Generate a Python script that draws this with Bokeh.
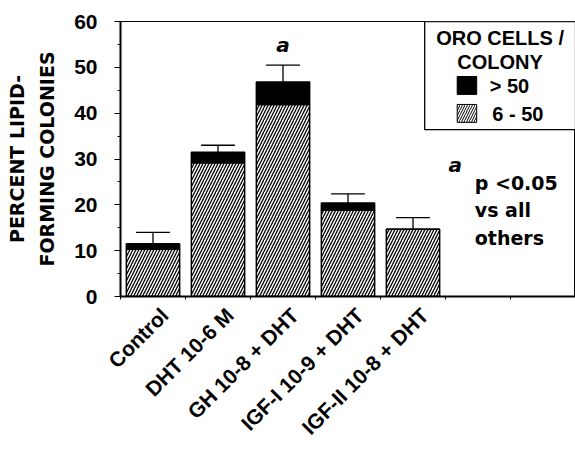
import math
from bokeh.plotting import figure
from bokeh.models import Range1d, FixedTicker, ColumnDataSource
from bokeh.core.properties import value
from bokeh.embed import file_html
from bokeh.resources import INLINE

categories = ["Control", "DHT 10-6 M", "GH 10-8 + DHT", "IGF-I 10-9 + DHT", "IGF-II 10-8 + DHT"]
pct_6_50 = [10.3, 29.2, 41.9, 18.8, 14.7]
pct_gt50 = [1.2, 2.3, 4.9, 1.6, 0.0]
sem = [2.5, 1.5, 3.7, 2.0, 2.5]
n_slots = 7

FONT = "DejaVu Sans"
TFONT = "Liberation Sans"

xs = [i + 0.5 for i in range(len(categories))]
label_pos = [x + 0.18 for x in xs]
totals = [a + b for a, b in zip(pct_6_50, pct_gt50)]
err_top = [t + s for t, s in zip(totals, sem)]

p = figure(width=575, height=449, output_backend="svg", toolbar_location=None,
           x_range=Range1d(0, n_slots), y_range=Range1d(0, 60),
           min_border_left=120, min_border_right=0, min_border_top=21, min_border_bottom=153)
p.grid.visible = False
p.outline_line_color = "black"
p.outline_line_width = 1
p.background_fill_color = "white"
p.border_fill_color = "white"

src = ColumnDataSource(dict(x=xs, h=pct_6_50, g=pct_gt50, t=totals, e=err_top,
                            z=[0] * len(xs)))
bw = 0.82
p.vbar(x="x", bottom="z", top="h", width=bw, source=src, fill_color="white",
       line_color="black", line_width=1.5, hatch_pattern="/", hatch_color="black",
       hatch_scale=6, hatch_weight=1.3)
p.vbar(x="x", bottom="h", top="t", width=bw, source=src, fill_color="black",
       line_color="black", line_width=1.5)
p.segment(x0="x", y0="t", x1="x", y1="e", source=src, line_color="black", line_width=1.3)
cap = 0.26
p.segment(x0=[x - cap for x in xs], y0=err_top, x1=[x + cap for x in xs], y1=err_top,
          line_color="black", line_width=1.3)

# y axis
p.yaxis.ticker = FixedTicker(ticks=[0, 10, 20, 30, 40, 50, 60], minor_ticks=[5, 15, 25, 35, 45, 55])
p.yaxis.major_label_text_font = TFONT
p.yaxis.major_label_text_font_style = "bold"
p.yaxis.major_label_text_font_size = "21px"
p.yaxis.major_label_text_color = "black"
p.yaxis.axis_line_width = 2
p.yaxis.major_tick_out = 6
p.yaxis.major_tick_in = 0
p.yaxis.minor_tick_out = 3
p.yaxis.minor_tick_in = 0
p.yaxis.major_label_standoff = 17
p.yaxis.axis_label = "PERCENT LIPID-\nFORMING COLONIES"
p.yaxis.axis_label_text_font = FONT
p.yaxis.axis_label_text_font_style = "bold"
p.yaxis.axis_label_text_font_size = "19px"
p.yaxis.axis_label_text_line_height = 1.37
p.yaxis.axis_label_text_color = "black"
p.yaxis.axis_label_standoff = 13

# x axis: label ticks (invisible) + boundary ticks
p.xaxis.ticker = FixedTicker(ticks=label_pos, minor_ticks=list(range(0, n_slots)))
p.xaxis.major_label_overrides = {x: c for x, c in zip(label_pos, categories)}
p.xaxis.major_label_orientation = math.pi / 4
p.xaxis.major_label_text_font = TFONT
p.xaxis.major_label_text_font_style = "bold"
p.xaxis.major_label_text_font_size = "21px"
p.xaxis.major_label_text_color = "black"
p.xaxis.major_tick_line_color = None
p.xaxis.major_tick_out = 0
p.xaxis.major_tick_in = 0
p.xaxis.minor_tick_out = 3
p.xaxis.minor_tick_in = 0
p.xaxis.axis_line_width = 2
p.xaxis.major_label_standoff = 12

txt = dict(text_font=value(FONT), text_font_style="bold", text_color="black")

# significance marks
p.text(x=[xs[2]], y=[54.8], text=["a"], text_font_size="20px", text_align="center",
       text_baseline="middle", text_font=value(FONT), text_font_style="bold italic", text_color="black")
p.text(x=[5.15], y=[28.6], text=["a"], text_font_size="20px", text_align="center",
       text_baseline="middle", text_font=value(FONT), text_font_style="bold italic", text_color="black")
p.text(x=[5.45] * 3, y=[24.7, 18.8, 12.7], text=["p <0.05", "vs all", "others"],
       text_font_size="19px", text_align="left", text_baseline="middle", **txt)

# legend
p.quad(left=[4.68], right=[7.0], bottom=[36.4], top=[60], fill_color="white",
       line_color="black", line_width=1.3)
p.text(x=[5.84, 5.84], y=[56.3, 51.1], text=["ORO CELLS /", "COLONY"], text_font_size="20px",
       text_align="center", text_baseline="middle", text_font=value(TFONT),
       text_font_style="bold", text_color="black")
p.quad(left=[5.18], right=[5.48], bottom=[44.1], top=[48.0], fill_color="black", line_color="black")
p.quad(left=[5.18], right=[5.48], bottom=[38.0], top=[41.9], fill_color="white",
       line_color="black", line_width=1, hatch_pattern="/", hatch_color="black",
       hatch_scale=5, hatch_weight=1)
p.text(x=[5.68, 5.72], y=[46.0, 39.9], text=["> 50", "6 - 50"], text_font_size="20px",
       text_align="left", text_baseline="middle", text_font=value(TFONT),
       text_font_style="bold", text_color="black")

open("out.html", "w").write(file_html(p, INLINE))
